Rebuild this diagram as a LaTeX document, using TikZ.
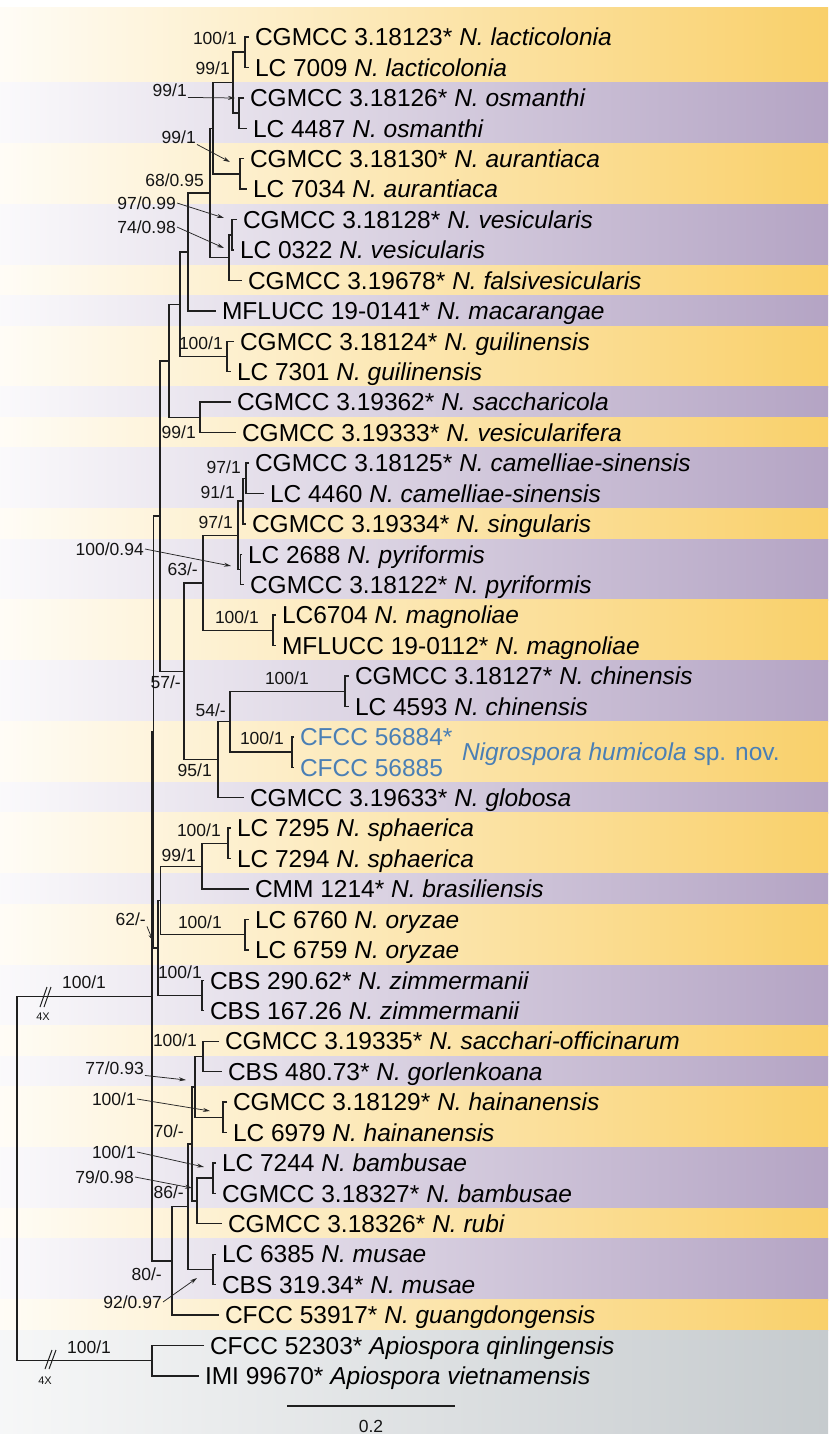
\documentclass[tikz,border=0pt]{standalone}
\usepackage{fontspec}
\setmainfont{Liberation Sans}
\usetikzlibrary{arrows.meta}
\definecolor{bandY}{RGB}{249,208,106}
\definecolor{bandP}{RGB}{180,164,196}
\definecolor{bandG}{RGB}{198,203,206}
\definecolor{humblue}{RGB}{74,127,181}

\begin{document}
\begin{tikzpicture}[x=1pt,y=-1pt,
  tip/.style={anchor=west,inner xsep=6pt,inner ysep=0pt,outer sep=0pt,text height=17.5pt,text depth=0pt,font=\fontsize{24.5}{29}\selectfont},
  supp/.style={inner sep=1pt,text height=12.5pt,text depth=0pt,font=\fontsize{17.5}{21}\selectfont,text=black!92},
  branch/.style={draw=black!88,line width=1.4pt},
  pointer/.style={draw=black!85,line width=0.75pt,-{Stealth[length=7pt,width=4pt]}}]
\fill[white] (0,0) rectangle (828,1434);
\useasboundingbox (0,0) rectangle (828,1434);
\shade[left color=bandY!6,right color=bandY] (0,8) rectangle (828,82.9);
\foreach \a/\b/\bc in {3/4/bandP,5/6/bandY,7/8/bandP,9/9/bandY,10/10/bandP,11/12/bandY,13/13/bandP,14/14/bandY,15/16/bandP,17/17/bandY,18/19/bandP,20/21/bandY,22/23/bandP,24/25/bandY,26/26/bandP,27/28/bandY,29/29/bandP,30/31/bandY,32/33/bandP,34/34/bandY,35/35/bandP,36/37/bandY,38/39/bandP,40/40/bandY,41/42/bandP,43/43/bandY}
  {\shade[left color=\bc!6,right color=\bc] (0,{37+30.43*(\a-1)-15.22}) rectangle (828,{37+30.43*(\b-1)+15.5});}
\shade[left color=bandG!15,right color=bandG] (0,1330.3) rectangle (828,1434);
\foreach \n/\x/\lab in {1/249/{CGMCC 3.18123* \textit{N. lacticolonia}},2/249/{LC 7009 \textit{N. lacticolonia}},
  3/244/{CGMCC 3.18126* \textit{N. osmanthi}},4/247/{LC 4487 \textit{N. osmanthi}},
  5/244/{CGMCC 3.18130* \textit{N. aurantiaca}},6/247/{LC 7034 \textit{N. aurantiaca}},
  7/237/{CGMCC 3.18128* \textit{N. vesicularis}},8/234/{LC 0322 \textit{N. vesicularis}},
  9/242/{CGMCC 3.19678* \textit{N. falsivesicularis}},10/216/{MFLUCC 19-0141* \textit{N. macarangae}},
  11/234/{CGMCC 3.18124* \textit{N. guilinensis}},12/231/{LC 7301 \textit{N. guilinensis}},
  13/231/{CGMCC 3.19362* \textit{N. saccharicola}},14/236/{CGMCC 3.19333* \textit{N. vesicularifera}},
  15/249/{CGMCC 3.18125* \textit{N. camelliae-sinensis}},16/264/{LC 4460 \textit{N. camelliae-sinensis}},
  17/246/{CGMCC 3.19334* \textit{N. singularis}},18/242/{LC 2688 \textit{N. pyriformis}},
  19/244/{CGMCC 3.18122* \textit{N. pyriformis}},20/276/{LC6704 \textit{N. magnoliae}},
  21/276/{MFLUCC 19-0112* \textit{N. magnoliae}},22/349/{CGMCC 3.18127* \textit{N. chinensis}},
  23/349/{LC 4593 \textit{N. chinensis}},24/294/{\color{humblue}CFCC 56884*},25/294/{\color{humblue}CFCC 56885},
  26/244/{CGMCC 3.19633* \textit{N. globosa}},27/231/{LC 7295 \textit{N. sphaerica}},28/231/{LC 7294 \textit{N. sphaerica}},
  29/249/{CMM 1214* \textit{N. brasiliensis}},30/249/{LC 6760 \textit{N. oryzae}},31/249/{LC 6759 \textit{N. oryzae}},
  32/204/{CBS 290.62* \textit{N. zimmermanii}},33/204/{CBS 167.26 \textit{N. zimmermanii}},
  34/219/{CGMCC 3.19335* \textit{N. sacchari-officinarum}},35/222/{CBS 480.73* \textit{N. gorlenkoana}},
  36/227/{CGMCC 3.18129* \textit{N. hainanensis}},37/227/{LC 6979 \textit{N. hainanensis}},
  38/216/{LC 7244 \textit{N. bambusae}},39/216/{CGMCC 3.18327* \textit{N. bambusae}},
  40/222/{CGMCC 3.18326* \textit{N. rubi}},41/216/{LC 6385 \textit{N. musae}},42/216/{CBS 319.34* \textit{N. musae}},
  43/219/{CFCC 53917* \textit{N. guangdongensis}},44/204/{CFCC 52303* \textit{Apiospora qinlingensis}},
  45/199/{IMI 99670* \textit{Apiospora vietnamensis}}}
  {\node[tip] (t\n) at (\x,{37+30.43*(\n-1)}) {\lab};}
\node[tip,text=humblue] (humlab) at (456,752) {\textit{Nigrospora humicola} sp. nov.};
\coordinate (lac) at (245,52.2);
\coordinate (osm) at (239,113.1);
\coordinate (lacosm) at (233,82.65);
\coordinate (aur) at (240,173.95);
\coordinate (xa) at (213,128.3);
\coordinate (ves) at (232,234.8);
\coordinate (vesf) at (229,257.6);
\coordinate (xb) at (210,192.95);
\coordinate (mac) at (188,251.9);
\coordinate (gui) at (227,356.5);
\coordinate (ga) at (180,304.2);
\coordinate (sac) at (200,417.4);
\coordinate (gb) at (169,360.8);
\coordinate (cam) at (246,478.25);
\coordinate (sing) at (243,501.1);
\coordinate (pyr) at (240.5,569.5);
\coordinate (csp) at (238,535.3);
\coordinate (mag) at (273,630.4);
\coordinate (cm) at (203,582.85);
\coordinate (chi) at (345,691.25);
\coordinate (hum) at (292,752.1);
\coordinate (chh) at (230,721.7);
\coordinate (glo) at (218,759.75);
\coordinate (cg) at (184,671.3);
\coordinate (up) at (160,516.05);
\coordinate (sph) at (228,843.4);
\coordinate (sb) at (202,866.2);
\coordinate (ory) at (245,934.7);
\coordinate (so) at (160.5,900.45);
\coordinate (zim) at (202,995.55);
\coordinate (soz) at (158,948);
\coordinate (ua) at (153.5,732);
\coordinate (sg) at (203,1056.4);
\coordinate (hai) at (223,1117.3);
\coordinate (sgh) at (195,1086.85);
\coordinate (bam) at (213,1178.1);
\coordinate (br) at (197,1200.95);
\coordinate (nb) at (192,1143.9);
\coordinate (mus) at (213,1269.4);
\coordinate (nm) at (188,1206.65);
\coordinate (low) at (172,1260.9);
\coordinate (ing) at (152,996.45);
\coordinate (out) at (152,1360.7);
\coordinate (root) at (17,1178.6);
\draw[branch] (t1.west) -| (lac) |- (t2.west);
\draw[branch] (t3.west) -| (osm) |- (t4.west);
\draw[branch] (lac) -| (lacosm) |- (osm);
\draw[branch] (t5.west) -| (aur) |- (t6.west);
\draw[branch] (lacosm) -| (xa) |- (aur);
\draw[branch] (t7.west) -| (ves) |- (t8.west);
\draw[branch] (ves) -| (vesf) |- (t9.west);
\draw[branch] (xa) -| (xb) |- (vesf);
\draw[branch] (xb) -| (mac) |- (t10.west);
\draw[branch] (t11.west) -| (gui) |- (t12.west);
\draw[branch] (mac) -| (ga) |- (gui);
\draw[branch] (t13.west) -| (sac) |- (t14.west);
\draw[branch] (ga) -| (gb) |- (sac);
\draw[branch] (t15.west) -| (cam) |- (t16.west);
\draw[branch] (cam) -| (sing) |- (t17.west);
\draw[branch] (t18.west) -| (pyr) |- (t19.west);
\draw[branch] (sing) -| (csp) |- (pyr);
\draw[branch] (t20.west) -| (mag) |- (t21.west);
\draw[branch] (csp) -| (cm) |- (mag);
\draw[branch] (t22.west) -| (chi) |- (t23.west);
\draw[branch] (t24.west) -| (hum) |- (t25.west);
\draw[branch] (chi) -| (chh) |- (hum);
\draw[branch] (chh) -| (glo) |- (t26.west);
\draw[branch] (cm) -| (cg) |- (glo);
\draw[branch] (gb) -| (up) |- (cg);
\draw[branch] (t27.west) -| (sph) |- (t28.west);
\draw[branch] (sph) -| (sb) |- (t29.west);
\draw[branch] (t30.west) -| (ory) |- (t31.west);
\draw[branch] (sb) -| (so) |- (ory);
\draw[branch] (t32.west) -| (zim) |- (t33.west);
\draw[branch] (so) -| (soz) |- (zim);
\draw[branch] (up) -| (ua) |- (soz);
\draw[branch] (t34.west) -| (sg) |- (t35.west);
\draw[branch] (t36.west) -| (hai) |- (t37.west);
\draw[branch] (sg) -| (sgh) |- (hai);
\draw[branch] (t38.west) -| (bam) |- (t39.west);
\draw[branch] (bam) -| (br) |- (t40.west);
\draw[branch] (sgh) -| (nb) |- (br);
\draw[branch] (t41.west) -| (mus) |- (t42.west);
\draw[branch] (nb) -| (nm) |- (mus);
\draw[branch] (nm) -| (low) |- (t43.west);
\draw[branch] (ua) -| (ing) |- (low);
\draw[branch] (t44.west) -| (out) |- (t45.west);
\draw[branch] (ing) -| (root) |- (out);
\draw[branch,line width=1pt] (40,1007) -- (47,987) (44,1007) -- (51,987);
\draw[branch,line width=1pt] (45,1369) -- (52,1350) (49,1369) -- (56,1350);
\node[supp,anchor=east] (s1) at (238,38) {100/1};
\node[supp,anchor=east] (s2) at (231,68) {99/1};
\node[supp,anchor=east] (s3) at (188,90) {99/1};
\node[supp,anchor=east] (s4) at (197,137) {99/1};
\node[supp,anchor=east] (s5) at (205,180) {68/0.95};
\node[supp,anchor=east] (s6) at (177,203) {97/0.99};
\node[supp,anchor=east] (s7) at (177,227) {74/0.98};
\node[supp,anchor=east] (s8) at (224,343) {100/1};
\node[supp,anchor=east] (s9) at (197,432) {99/1};
\node[supp,anchor=east] (s10) at (242,467) {97/1};
\node[supp,anchor=east] (s11) at (236,492) {91/1};
\node[supp,anchor=east] (s12) at (234,522) {97/1};
\node[supp,anchor=east] (s13) at (145,549) {100/0.94};
\node[supp,anchor=east] (s14) at (199,569) {63/-};
\node[supp,anchor=east] (s15) at (260,617) {100/1};
\node[supp,anchor=east] (s16) at (182,682) {57/-};
\node[supp,anchor=east] (s17) at (310,678) {100/1};
\node[supp,anchor=east] (s18) at (227,710) {54/-};
\node[supp,anchor=east] (s19) at (285,738) {100/1};
\node[supp,anchor=east] (s20) at (213,770) {95/1};
\node[supp,anchor=east] (s21) at (222,830) {100/1};
\node[supp,anchor=east] (s22) at (197,855) {99/1};
\node[supp,anchor=east] (s23) at (223,922) {100/1};
\node[supp,anchor=east] (s24) at (147,919) {62/-};
\node[supp,anchor=east] (s25) at (203,972) {100/1};
\node[supp] (s26) at (84,982) {100/1};
\node[supp,anchor=east] (s28) at (198,1040) {100/1};
\node[supp,anchor=east] (s29) at (145,1068) {77/0.93};
\node[supp,anchor=east] (s30) at (137,1099) {100/1};
\node[supp,anchor=east] (s31) at (185,1131) {70/-};
\node[supp,anchor=east] (s32) at (137,1152) {100/1};
\node[supp,anchor=east] (s33) at (135,1177) {79/0.98};
\node[supp,anchor=east] (s34) at (185,1192) {86/-};
\node[supp,anchor=east] (s35) at (163,1274) {80/-};
\node[supp,anchor=east] (s36) at (163,1302) {92/0.97};
\node[supp] (s37) at (89,1347) {100/1};
\node[supp,font=\fontsize{11}{13}\selectfont,text height=8pt] (x1) at (43,1016) {4X};
\node[supp,font=\fontsize{11}{13}\selectfont,text height=8pt] (x2) at (45,1380) {4X};
\coordinate (pOsm) at (235,98);
\coordinate (pAur) at (230,162);
\coordinate (pVes) at (224,218);
\coordinate (pVesf) at (224,248);
\coordinate (pPyr) at (231,566);
\coordinate (pSoz) at (153,941);
\coordinate (pSgh) at (186,1080);
\coordinate (pHai) at (210,1111);
\coordinate (pBam) at (204,1167);
\coordinate (pBr) at (192,1188);
\coordinate (pMus) at (197,1278);
\draw[pointer] (s3.south east) -- (pOsm);
\draw[pointer] (s4.south east) -- (pAur);
\draw[pointer] (s6.east) -- (pVes);
\draw[pointer] (s7.east) -- (pVesf);
\draw[pointer] (s13.east) -- (pPyr);
\draw[pointer] (s24.south east) -- (pSoz);
\draw[pointer] (s29.south east) -- (pSgh);
\draw[pointer] (s30.east) -- (pHai);
\draw[pointer] (s32.east) -- (pBam);
\draw[pointer] (s33.east) -- (pBr);
\draw[pointer] (s36.east) -- (pMus);
\coordinate (sbL) at (287,1406);
\coordinate (sbR) at (455,1406);
\draw[branch] (sbL) -- (sbR);
\node[supp] (sbLab) at (371,1426) {0.2};
\end{tikzpicture}
\end{document}
